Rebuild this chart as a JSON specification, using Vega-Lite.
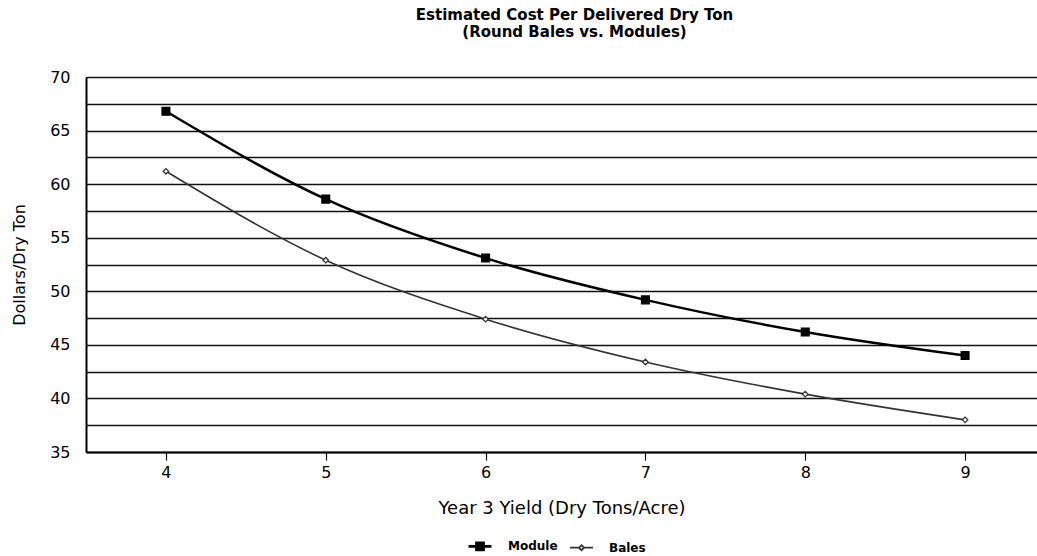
{
  "$schema": "https://vega.github.io/schema/vega-lite/v6.json",
  "width": 951,
  "height": 375,
  "autosize": "none",
  "padding": {"left": 86, "top": 77, "right": 0, "bottom": 104},
  "background": "white",
  "title": {
    "text": ["Estimated Cost Per Delivered Dry Ton", "(Round Bales vs. Modules)"],
    "font": "DejaVu Sans",
    "fontSize": 15,
    "fontWeight": "bold",
    "color": "#000",
    "offset": 29,
    "dx": 13,
    "lineHeight": 17,
    "anchor": "middle"
  },
  "config": {"view": {"stroke": null}, "font": "DejaVu Sans"},
  "data": {
    "values": [
      {"series": "Module", "yield": 4, "cost": 66.8},
      {"series": "Module", "yield": 5, "cost": 58.6},
      {"series": "Module", "yield": 6, "cost": 53.1},
      {"series": "Module", "yield": 7, "cost": 49.2},
      {"series": "Module", "yield": 8, "cost": 46.2},
      {"series": "Module", "yield": 9, "cost": 44.0},
      {"series": "Bales", "yield": 4, "cost": 61.2},
      {"series": "Bales", "yield": 5, "cost": 52.9},
      {"series": "Bales", "yield": 6, "cost": 47.4},
      {"series": "Bales", "yield": 7, "cost": 43.4},
      {"series": "Bales", "yield": 8, "cost": 40.4},
      {"series": "Bales", "yield": 9, "cost": 38.0}
    ]
  },
  "encoding": {
    "x": {
      "field": "yield",
      "type": "quantitative",
      "scale": {"domain": [3.5, 9.45], "nice": false, "zero": false},
      "axis": {
        "values": [4, 5, 6, 7, 8, 9],
        "title": "Year 3 Yield (Dry Tons/Acre)",
        "grid": false,
        "tickSize": 8,
        "tickColor": "#000",
        "tickWidth": 1.2,
        "domainColor": "#000",
        "domainWidth": 2,
        "labelFontSize": 16,
        "labelColor": "#000",
        "labelPadding": 4,
        "titleFontSize": 18,
        "titleFontWeight": "normal",
        "titleColor": "#000",
        "titlePadding": 19
      }
    },
    "y": {
      "field": "cost",
      "type": "quantitative",
      "scale": {"domain": [35, 70], "nice": false, "zero": false},
      "axis": {
        "values": [35, 37.5, 40, 42.5, 45, 47.5, 50, 52.5, 55, 57.5, 60, 62.5, 65, 67.5, 70],
        "labelExpr": "datum.value % 5 === 0 ? datum.label : ''",
        "title": "Dollars/Dry Ton",
        "grid": true,
        "gridColor": "#111",
        "gridWidth": 1.5,
        "gridOpacity": 1,
        "ticks": false,
        "tickSize": 0,
        "domainColor": "#000",
        "domainWidth": 2,
        "labelFontSize": 16,
        "labelColor": "#000",
        "labelPadding": 16,
        "titleFontSize": 16,
        "titleFontWeight": "normal",
        "titleColor": "#000",
        "titlePadding": 22
      }
    }
  },
  "resolve": {
    "scale": {"shape": "independent", "fill": "independent", "stroke": "independent", "size": "independent", "strokeWidth": "independent"},
    "legend": {"shape": "independent", "fill": "independent", "stroke": "independent", "size": "independent", "strokeWidth": "independent"}
  },
  "layer": [
    {
      "mark": {"type": "line", "interpolate": "monotone"},
      "encoding": {
        "stroke": {"field": "series", "type": "nominal", "scale": {"domain": ["Module", "Bales"], "range": ["#000", "#333"]}, "legend": null},
        "strokeWidth": {"field": "series", "type": "nominal", "scale": {"domain": ["Module", "Bales"], "range": [2.5, 1.6]}, "legend": null}
      }
    },
    {
      "mark": {"type": "point", "opacity": 1, "strokeWidth": 1.3},
      "encoding": {
        "fill": {"field": "series", "type": "nominal", "scale": {"domain": ["Module", "Bales"], "range": ["#000", "#fff"]}, "legend": null},
        "stroke": {"field": "series", "type": "nominal", "scale": {"domain": ["Module", "Bales"], "range": ["#000", "#333"]}, "legend": null},
        "size": {"field": "series", "type": "nominal", "scale": {"domain": ["Module", "Bales"], "range": [60, 30]}, "legend": null},
        "shape": {"field": "series", "type": "nominal", "scale": {"domain": ["Module", "Bales"], "range": ["square", "diamond"]}, "legend": null}
      }
    },
    {
      "transform": [{"filter": "false"}],
      "mark": {"type": "point", "opacity": 1, "size": 529},
      "encoding": {
        "fill": {"field": "series", "type": "nominal", "scale": {"domain": ["Module", "Bales"], "range": ["#000", "#fff"]}},
        "stroke": {"field": "series", "type": "nominal", "scale": {"domain": ["Module", "Bales"], "range": ["#000", "#333"]}},
        "strokeWidth": {"field": "series", "type": "nominal", "scale": {"domain": ["Module", "Bales"], "range": [2.8, 1.8]}},
        "shape": {
          "field": "series",
          "type": "nominal",
          "scale": {"domain": ["Module", "Bales"], "range": ["M-1,0H1M-0.3,-0.3H0.3V0.3H-0.3Z", "M-1,0H-0.22M0.22,0H1M0,-0.22L0.22,0L0,0.22L-0.22,0Z"]},
          "legend": {
            "orient": "none",
            "legendX": 381,
            "legendY": 456,
            "direction": "horizontal",
            "title": null,
            "labelFont": "DejaVu Sans",
            "labelFontWeight": "bold",
            "labelFontSize": 12,
            "labelColor": "#000",
            "labelOffset": 15,
            "columnPadding": 8,
            "symbolSize": 529,
            "symbolOpacity": 1
          }
        }
      }
    }
  ]
}
